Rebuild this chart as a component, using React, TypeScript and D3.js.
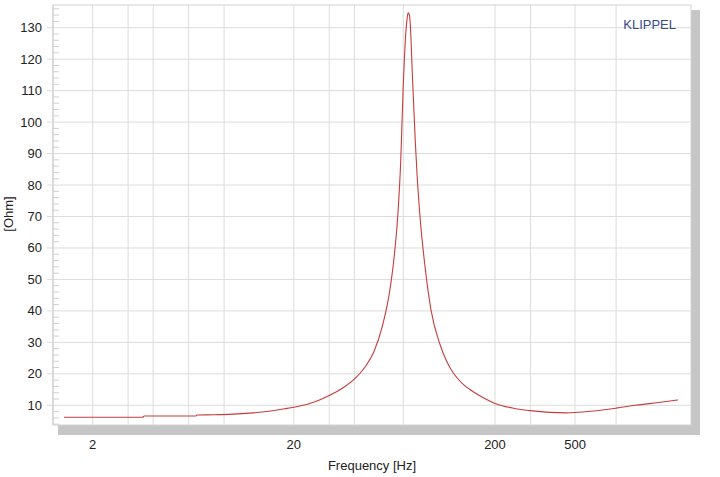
import React from "react";
import * as d3 from "d3";

const freqs = [
  1.44, 2, 3, 3.55, 3.6, 5, 6.5, 6.6, 8, 10, 12, 15, 18, 20, 24, 27, 30, 35, 40,
  45, 50, 55, 60, 63, 66, 68, 69, 70, 71, 72, 73, 74, 75, 76, 76.5, 77.6, 78.9,
  80.3, 82, 85, 90, 96, 107, 115, 122, 130, 140, 150, 175, 200, 250, 300, 375,
  450, 500, 600, 700, 800, 1000, 1300, 1625,
];
const impedance = [
  6.2, 6.2, 6.2, 6.2, 6.6, 6.6, 6.6, 6.9, 7.0, 7.2, 7.5, 8.1, 8.9, 9.4, 10.6,
  11.8, 13.1, 15.5, 18.3, 22, 27, 35, 46.5, 57, 72, 88, 100, 112, 121, 128,
  132.5, 134.7, 134.2, 130, 126, 115.5, 105, 94, 83, 69, 53.5, 40.5, 29, 24,
  21, 18.6, 16.5, 15, 12.4, 10.6, 9.0, 8.3, 7.75, 7.6, 7.7, 8.1, 8.6, 9.1,
  10.0, 10.9, 11.7,
];
const yTickValues = [10, 20, 30, 40, 50, 60, 70, 80, 90, 100, 110, 120, 130];
const xTickLabels = [2, 20, 200, 500];
const xGridValues = [2, 3, 4, 6, 9, 20, 30, 40, 70, 200, 300, 500, 800];

const W = 720;
const H = 477;
const L = 53, R = 691, T = 5, B = 425;
const FONT = "'Liberation Sans', Arial, sans-serif";

export default function App() {
  const x = d3.scaleLog().domain([1.27, 1885]).range([L, R]);
  const y = d3.scaleLinear().domain([3.74, 137.21]).range([B, T]);
  const minorTicks = d3.range(4, 138, 2).filter((v) => v % 10 !== 0);
  const data = freqs.map((f, i) => [f, impedance[i]] as [number, number]);
  const line = d3
    .line<[number, number]>()
    .x((d) => x(d[0]))
    .y((d) => y(d[1]))
    .curve(d3.curveMonotoneX);

  return (
    <svg
      width={W}
      height={H}
      style={{ position: "absolute", left: 0, top: 0, background: "#fff" }}
      fontFamily={FONT}
    >
      <rect x={L + 5} y={T + 5} width={R - L + 4} height={B - T + 5} fill="#c6c6c6" />
      <rect x={L} y={T} width={R - L} height={B - T} fill="#fff" stroke="#d2d2d2" strokeWidth={1} />
      {xGridValues.map((v) => (
        <line key={"xg" + v} x1={x(v)} x2={x(v)} y1={T} y2={B} stroke="#dcdcdc" strokeWidth={1} />
      ))}
      {yTickValues.map((v) => (
        <line key={"yg" + v} x1={L - 6} x2={R} y1={y(v)} y2={y(v)} stroke="#dcdcdc" strokeWidth={1} />
      ))}
      {minorTicks.map((v) => (
        <line key={"ym" + v} x1={L} x2={L + 6} y1={y(v)} y2={y(v)} stroke="#d0d0d0" strokeWidth={1} />
      ))}
      <line x1={L} x2={L} y1={T} y2={B} stroke="#cfcfcf" />
      <path d={line(data) || ""} fill="none" stroke="#c83c3c" strokeWidth={1.1} />
      {yTickValues.map((v) => (
        <text key={"yl" + v} x={42} y={y(v)} textAnchor="end" dominantBaseline="central" fontSize={13} fill="#222">
          {v}
        </text>
      ))}
      {xTickLabels.map((v) => (
        <text key={"xl" + v} x={x(v)} y={444} textAnchor="middle" dominantBaseline="central" fontSize={13} fill="#222">
          {v}
        </text>
      ))}
      <text x={372} y={465} textAnchor="middle" dominantBaseline="central" fontSize={13} fill="#222">
        Frequency [Hz]
      </text>
      <text
        transform="translate(8,214) rotate(-90)"
        textAnchor="middle"
        dominantBaseline="central"
        fontSize={13}
        fill="#222"
      >
        [Ohm]
      </text>
      <text x={676} y={24} textAnchor="end" dominantBaseline="central" fontSize={13} fill="#3a4a8e">
        KLIPPEL
      </text>
    </svg>
  );
}
